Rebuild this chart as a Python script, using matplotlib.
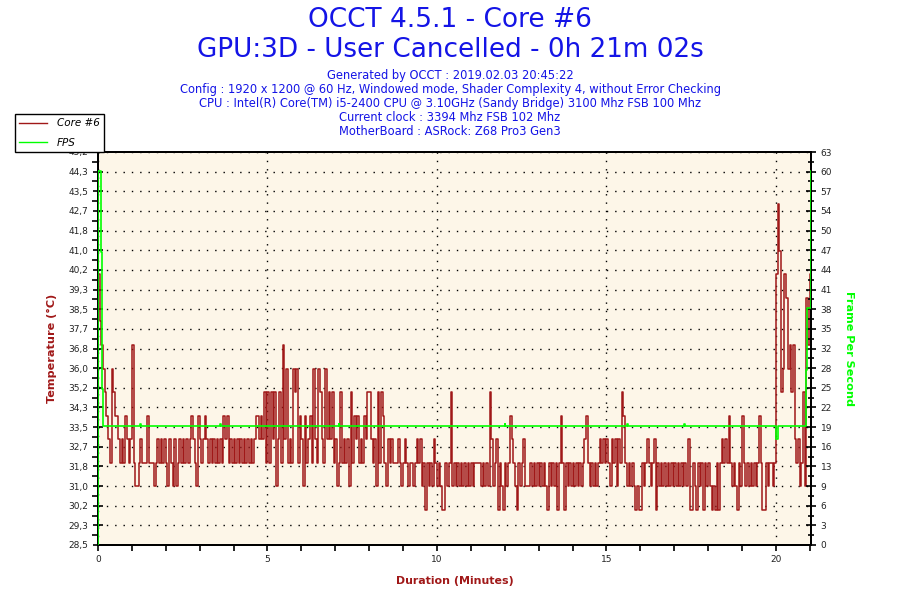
import matplotlib
matplotlib.use('Agg')
import matplotlib.pyplot as plt
from matplotlib.lines import Line2D
from matplotlib.ticker import MultipleLocator, AutoMinorLocator
import numpy as np

# ---------------- data ----------------
SAMPLE_STEP_MIN = 0.05   # minutes between temperature samples
DURATION_MIN = 21.033    # 0h 21m 02s

temp_min00 = [40, 38, 37, 36, 35, 34, 33, 32, 36, 35, 34, 34, 33, 32, 33, 32, 34, 33, 32, 33]
temp_min01 = [37, 32, 31, 31, 32, 33, 32, 32, 32, 34, 32, 32, 32, 31, 32, 33, 32, 33, 32, 33]
temp_min02 = [32, 31, 33, 32, 31, 33, 31, 32, 33, 32, 33, 32, 33, 32, 33, 34, 33, 32, 31, 34]
temp_min03 = [33, 32, 33, 34, 33, 32, 33, 32, 33, 32, 33, 32, 33, 32, 34, 33, 34, 32, 33, 32]
temp_min04 = [33, 32, 33, 32, 33, 32, 33, 32, 33, 32, 33, 32, 33, 34, 34, 33, 34, 33, 35, 32]
temp_min05 = [35, 32, 35, 33, 35, 31, 33, 35, 32, 37, 33, 36, 32, 33, 32, 36, 35, 36, 32, 34]
temp_min06 = [33, 31, 34, 32, 33, 34, 32, 36, 33, 32, 36, 35, 33, 32, 36, 33, 35, 33, 35, 32]
temp_min07 = [33, 31, 32, 35, 32, 33, 32, 33, 31, 35, 32, 34, 33, 34, 32, 33, 32, 34, 33, 35]
temp_min08 = [35, 33, 32, 33, 31, 35, 32, 35, 34, 32, 31, 33, 32, 33, 32, 32, 32, 33, 32, 31]
temp_min09 = [32, 33, 32, 31, 32, 32, 31, 32, 33, 32, 33, 31, 32, 30, 32, 31, 32, 31, 33, 32]
temp_min10 = [31, 32, 31, 30, 30, 32, 31, 32, 35, 31, 32, 31, 32, 31, 32, 31, 32, 31, 32, 31]
temp_min11 = [32, 31, 32, 32, 32, 32, 31, 32, 31, 32, 31, 35, 33, 31, 32, 33, 30, 32, 31, 30]
temp_min12 = [32, 31, 32, 34, 33, 32, 31, 30, 32, 31, 32, 33, 31, 31, 31, 32, 31, 32, 31, 32]
temp_min13 = [31, 32, 31, 32, 31, 30, 32, 31, 32, 31, 32, 30, 32, 34, 32, 30, 32, 31, 32, 31]
temp_min14 = [32, 31, 32, 31, 32, 31, 32, 33, 34, 32, 31, 32, 31, 32, 31, 32, 33, 32, 33, 32]
temp_min15 = [33, 32, 31, 33, 32, 33, 31, 33, 32, 35, 34, 32, 31, 32, 31, 32, 31, 30, 31, 30]
temp_min16 = [30, 32, 31, 32, 33, 32, 31, 32, 33, 30, 32, 31, 32, 31, 32, 31, 32, 31, 32, 31]
temp_min17 = [32, 31, 32, 31, 32, 31, 32, 31, 33, 30, 30, 32, 31, 30, 32, 31, 32, 30, 32, 31]
temp_min18 = [32, 31, 30, 31, 30, 32, 30, 32, 33, 32, 33, 32, 34, 32, 31, 32, 31, 30, 32, 31]
temp_min19 = [34, 32, 31, 32, 31, 32, 31, 32, 31, 32, 34, 32, 30, 30, 32, 31, 32, 32, 31, 32]
temp_min20 = [40, 43, 41, 35, 36, 40, 39, 36, 37, 35, 37, 33, 32, 33, 31, 32, 35, 31, 39, 37]
temp_min21 = [40]

fps_time = [0.0, 0.01, 0.08, 0.10, 0.12, 0.13, 0.15, 1.25, 1.27, 3.60, 3.62,
            7.10, 7.12, 12.00, 12.02, 15.60, 15.62, 17.30, 17.32, 19.98,
            20.01, 20.05, 20.86, 20.89, 20.92, 21.033]
fps_value = [0, 60, 60, 47, 40, 25, 19, 19.4, 19, 19.4, 19,
             19.4, 19, 19.4, 19, 19.4, 19, 19.4, 19, 19,
             17, 19, 19, 28, 38, 60]

temp_ticklabels = ['28,5', '29,3', '30,2', '31,0', '31,8', '32,7', '33,5', '34,3',
                   '35,2', '36,0', '36,8', '37,7', '38,5', '39,3', '40,2', '41,0',
                   '41,8', '42,7', '43,5', '44,3', '45,2']
fps_ticklabels = ['0', '3', '6', '9', '13', '16', '19', '22', '25', '28', '32',
                  '35', '38', '41', '44', '47', '50', '54', '57', '60', '63']
TEMP_MIN, TEMP_MAX = 28.5, 45.2
FPS_MIN, FPS_MAX = 0, 63

title_lines = ['OCCT 4.5.1 - Core #6', 'GPU:3D - User Cancelled - 0h 21m 02s']
info_lines = ['Generated by OCCT : 2019.02.03 20:45:22',
              'Config : 1920 x 1200 @ 60 Hz, Windowed mode, Shader Complexity 4, without Error Checking',
              'CPU : Intel(R) Core(TM) i5-2400 CPU @ 3.10GHz (Sandy Bridge) 3100 Mhz FSB 100 Mhz',
              'Current clock : 3394 Mhz FSB 102 Mhz',
              'MotherBoard : ASRock: Z68 Pro3 Gen3']

# ---------------- build ----------------
temps = (temp_min00 + temp_min01 + temp_min02 + temp_min03 + temp_min04 + temp_min05 +
         temp_min06 + temp_min07 + temp_min08 + temp_min09 + temp_min10 + temp_min11 +
         temp_min12 + temp_min13 + temp_min14 + temp_min15 + temp_min16 + temp_min17 +
         temp_min18 + temp_min19 + temp_min20 + temp_min21)
temp_time = np.arange(len(temps)) * SAMPLE_STEP_MIN
temp_time = np.append(temp_time, DURATION_MIN)
temps = temps + [temps[-1]]

RED = '#A01818'
GREEN = '#00FF00'
BLUE = '#1414E6'
BG = '#FDF6E8'

plt.rcParams['font.family'] = ['DejaVu Sans']
fig = plt.figure(figsize=(9, 6), dpi=100)
ax = fig.add_axes([98/900, 1-545/600, (811-98)/900, (545-152)/600])
ax.set_facecolor(BG)

ax.plot(temp_time, temps, color=RED, lw=1.1, drawstyle='steps-post', zorder=3)
ax.set_xlim(0, DURATION_MIN)
ax.set_ylim(TEMP_MIN, TEMP_MAX)

tpos = np.linspace(TEMP_MIN, TEMP_MAX, len(temp_ticklabels))
ax.set_yticks(tpos)
ax.set_yticklabels(temp_ticklabels)
ax.yaxis.set_minor_locator(AutoMinorLocator(2))
ax.xaxis.set_major_locator(MultipleLocator(5))
ax.xaxis.set_minor_locator(MultipleLocator(1))
ax.grid(True, which='major', color='black', linestyle=(0, (1, 5)), linewidth=1.0)

ax.tick_params(axis='y', which='major', direction='inout', length=7, width=1.2,
               labelsize=6.5, colors='black', labelcolor='#222222')
ax.tick_params(axis='y', which='minor', direction='out', length=4, width=1.2)
ax.tick_params(axis='x', which='both', direction='out', length=4, width=1.2,
               labelsize=6.5, labelcolor='#222222')
for s in ax.spines.values():
    s.set_linewidth(1.4)

ax2 = ax.twinx()
ax2.plot(fps_time, fps_value, color=GREEN, lw=1.2, drawstyle='steps-post', zorder=4)
ax2.set_ylim(FPS_MIN, FPS_MAX)
fpos = np.linspace(FPS_MIN, FPS_MAX, len(fps_ticklabels))
ax2.set_yticks(fpos)
ax2.set_yticklabels(fps_ticklabels)
ax2.yaxis.set_minor_locator(AutoMinorLocator(2))
ax2.tick_params(axis='y', which='major', direction='inout', length=7, width=1.2,
                labelsize=6.5, labelcolor='#222222')
ax2.tick_params(axis='y', which='minor', direction='inout', length=5, width=1.2)
for s in ax2.spines.values():
    s.set_linewidth(1.4)

ax.set_ylabel('Temperature (°C)', color=RED, fontsize=8.1, fontweight='bold', labelpad=8)
ax.set_xlabel('Duration (Minutes)', color=RED, fontsize=7.9, fontweight='bold', labelpad=8)
ax2.set_ylabel('Frame Per Second', color=GREEN, fontsize=8.1, fontweight='bold',
               rotation=-90, labelpad=16)

# titles
fig.text(0.5, 1-20/600, title_lines[0], ha='center', va='center', color=BLUE, fontsize=19)
fig.text(0.5, 1-50/600, title_lines[1], ha='center', va='center', color=BLUE, fontsize=18.9)
for i, line in enumerate(info_lines):
    fig.text(0.5, 1-(76+13.8*i)/600, line, ha='center', va='center', color=BLUE, fontsize=8.3)

handles = [Line2D([], [], color=RED, lw=1), Line2D([], [], color=GREEN, lw=1)]
leg = fig.legend(handles, ['Core #6', 'FPS'], loc='upper left',
                 bbox_to_anchor=(15/900, 1-114/600), frameon=True, fancybox=False,
                 edgecolor='black', framealpha=1, prop={'style': 'italic', 'size': 7.5},
                 handlelength=2.7, borderpad=0.4, labelspacing=0.95, handletextpad=0.9,
                 borderaxespad=0)
leg.get_frame().set_linewidth(1.0)

fig.savefig('out.png', dpi=100, facecolor='white')
